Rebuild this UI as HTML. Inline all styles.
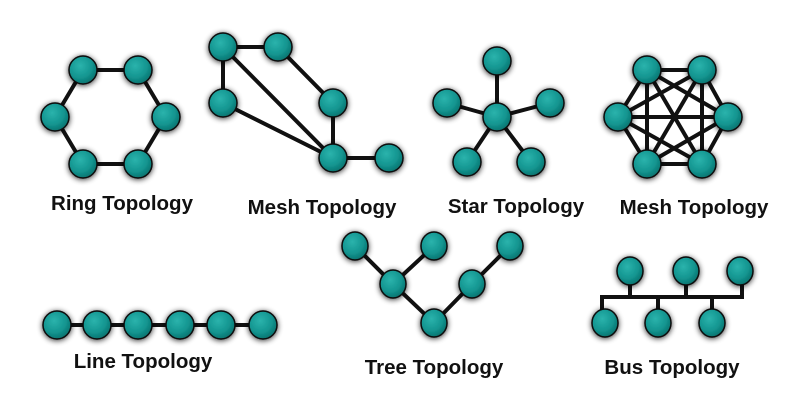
<!DOCTYPE html>
<html><head><style>
html,body{margin:0;padding:0;background:#fff;}
svg{display:block;}
text{font-family:"Liberation Sans",Arial,sans-serif;font-weight:bold;font-size:20.5px;fill:#111;text-anchor:middle;}
</style></head><body>
<svg width="800" height="400" viewBox="0 0 800 400" xmlns="http://www.w3.org/2000/svg">
<defs>
<radialGradient id="g" cx="0.4" cy="0.35" r="0.7">
<stop offset="0" stop-color="#2bb3ac"/><stop offset="0.6" stop-color="#139590"/><stop offset="1" stop-color="#0a6e6a"/>
</radialGradient>
<filter id="sh" x="-50%" y="-50%" width="200%" height="200%">
<feGaussianBlur in="SourceAlpha" stdDeviation="3"/><feOffset dx="0" dy="1"/>
<feComponentTransfer><feFuncA type="linear" slope="0.8"/></feComponentTransfer>
<feMerge><feMergeNode/><feMergeNode in="SourceGraphic"/></feMerge>
</filter>
</defs>
<g stroke="#111" stroke-width="4" fill="none" stroke-linecap="round">
<polygon points="83,70 138,70 166,117 138,164 83,164 55,117"/>
<path d="M223,47 L278,47 M223,47 L223,103 M223,47 L333,158 M223,103 L333,158 M278,47 L333,103 L333,158 L389,158"/>
<path d="M497,117 L497,61 M497,117 L447,103 M497,117 L550,103 M497,117 L467,162 M497,117 L531,162"/>
<path d="M647,70 L702,70 L728,117 L702,164 L647,164 L618,117 Z M647,70 L728,117 M647,70 L702,164 M647,70 L647,164 M702,70 L618,117 M702,70 L647,164 M702,70 L702,164 M618,117 L728,117 M618,117 L702,164 M728,117 L647,164"/>
<path d="M57,325 L263,325"/>
<path d="M355,246 L393,284 L434,323 L472,284 L510,246 M434,246 L393,284"/>
<path d="M602,323 L602,297 L742,297 L742,271 M630,271 L630,297 M686,271 L686,297 M658,297 L658,323 M712,297 L712,323" stroke-linecap="square"/>
</g>
<g fill="url(#g)" stroke="#0b0b0b" stroke-width="1.5" filter="url(#sh)">
<circle cx="83" cy="70" r="14"/><circle cx="138" cy="70" r="14"/><circle cx="55" cy="117" r="14"/><circle cx="166" cy="117" r="14"/><circle cx="83" cy="164" r="14"/><circle cx="138" cy="164" r="14"/>
<circle cx="223" cy="47" r="14"/><circle cx="278" cy="47" r="14"/><circle cx="223" cy="103" r="14"/><circle cx="333" cy="103" r="14"/><circle cx="333" cy="158" r="14"/><circle cx="389" cy="158" r="14"/>
<circle cx="497" cy="117" r="14"/><circle cx="497" cy="61" r="14"/><circle cx="447" cy="103" r="14"/><circle cx="550" cy="103" r="14"/><circle cx="467" cy="162" r="14"/><circle cx="531" cy="162" r="14"/>
<circle cx="647" cy="70" r="14"/><circle cx="702" cy="70" r="14"/><circle cx="618" cy="117" r="14"/><circle cx="728" cy="117" r="14"/><circle cx="647" cy="164" r="14"/><circle cx="702" cy="164" r="14"/>
<circle cx="57" cy="325" r="14"/><circle cx="97" cy="325" r="14"/><circle cx="138" cy="325" r="14"/><circle cx="180" cy="325" r="14"/><circle cx="221" cy="325" r="14"/><circle cx="263" cy="325" r="14"/>
<ellipse cx="355" cy="246" rx="13" ry="14"/><ellipse cx="434" cy="246" rx="13" ry="14"/><ellipse cx="510" cy="246" rx="13" ry="14"/><ellipse cx="393" cy="284" rx="13" ry="14"/><ellipse cx="472" cy="284" rx="13" ry="14"/><ellipse cx="434" cy="323" rx="13" ry="14"/>
<ellipse cx="630" cy="271" rx="13" ry="14"/><ellipse cx="686" cy="271" rx="13" ry="14"/><ellipse cx="740" cy="271" rx="13" ry="14"/><ellipse cx="605" cy="323" rx="13" ry="14"/><ellipse cx="658" cy="323" rx="13" ry="14"/><ellipse cx="712" cy="323" rx="13" ry="14"/>
</g>
<text x="122" y="210">Ring Topology</text>
<text x="322" y="214">Mesh Topology</text>
<text x="516" y="213">Star Topology</text>
<text x="694" y="214">Mesh Topology</text>
<text x="143" y="368">Line Topology</text>
<text x="434" y="374">Tree Topology</text>
<text x="672" y="374">Bus Topology</text>
</svg>
</body></html>
